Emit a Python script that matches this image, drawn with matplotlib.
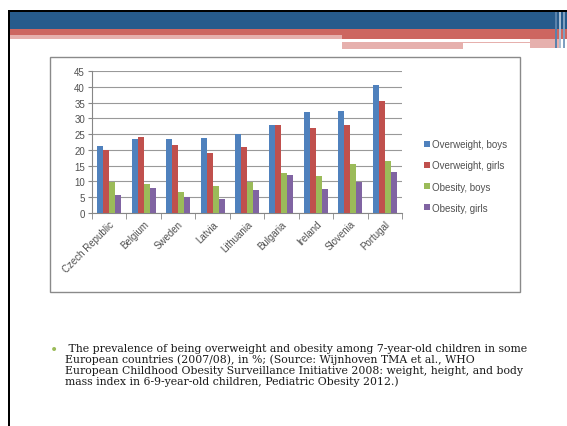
import matplotlib
matplotlib.use("Agg")
import matplotlib.pyplot as plt
from matplotlib.patches import Rectangle
import numpy as np

# chart data (in %)
countries = ["Czech Republic", "Belgium", "Sweden", "Latvia", "Lithuania",
             "Bulgaria", "Ireland", "Slovenia", "Portugal"]
overweight_boys = [21.3, 23.4, 23.4, 23.8, 25.0, 28.0, 31.9, 32.3, 40.5]
overweight_girls = [20.0, 24.1, 21.7, 18.9, 21.0, 27.8, 27.0, 28.0, 35.4]
obesity_boys = [9.9, 9.1, 6.7, 8.7, 9.7, 12.7, 11.7, 15.6, 16.4]
obesity_girls = [5.8, 7.9, 5.1, 4.4, 7.2, 12.0, 7.7, 9.9, 12.9]
series_names = ["Overweight, boys", "Overweight, girls", "Obesity, boys", "Obesity, girls"]
y_ticks = [0, 5, 10, 15, 20, 25, 30, 35, 40, 45]

caption = ("The prevalence of being overweight and obesity among 7-year-old children in some\n"
           "European countries (2007/08), in %; (Source: Wijnhoven TMA et al., WHO\n"
           "European Childhood Obesity Surveillance Initiative 2008: weight, height, and body\n"
           "mass index in 6-9-year-old children, Pediatric Obesity 2012.)")

W, H = 567, 427
fig = plt.figure(figsize=(W / 100, H / 100), dpi=100)


def px_rect(x0, y0, x1, y1, color, z=1):
    # rectangle given in picture pixels (top-left origin)
    fig.patches.append(Rectangle((x0 / W, 1 - y1 / H), (x1 - x0) / W, (y1 - y0) / H,
                                 transform=fig.transFigure, facecolor=color,
                                 edgecolor="none", zorder=z))


#%% slide decoration
px_rect(8, 11, 567, 13, "black", 3)
px_rect(8, 11, 10, 427, "black", 3)
px_rect(8, 13, 567, 30, "#275b8c")
px_rect(8, 30, 567, 36, "#cd6660")
px_rect(8, 36, 342, 40, "#e6b0ad")
px_rect(342, 36, 567, 40, "#cd6660")
px_rect(342, 43, 530, 44, "#e6b0ad")
px_rect(342, 44, 463, 50, "#e6b0ad")
px_rect(530, 40, 560, 49, "#e6b0ad")
for xs, c in [(555, "#5a82ab"), (559, "#a9bdd2"), (563, "#7f9fc0")]:
    px_rect(xs, 13, xs + 2, 49, c, 2)

# chart frame
fig.patches.append(Rectangle((50 / W, 1 - 293 / H), 470 / W, 235 / H,
                             transform=fig.transFigure, facecolor="white",
                             edgecolor="#8a8a8a", lw=1.0, zorder=0))

#%% bar chart
ax = fig.add_axes([92 / W, 1 - 214 / H, 310 / W, 142 / H])
ax.set_zorder(2)
x = np.arange(len(countries))
colors = ["#4f81bd", "#c0504d", "#9bbb59", "#8064a2"]
bw = 0.175
for i, vals in enumerate([overweight_boys, overweight_girls, obesity_boys, obesity_girls]):
    ax.bar(x + (i - 1.5) * bw, vals, bw, color=colors[i], label=series_names[i], zorder=3)

ax.set_xlim(-0.5, len(countries) - 0.5)
ax.set_ylim(0, 45)
ax.set_yticks(y_ticks)
ax.set_yticklabels([str(t) for t in y_ticks], fontsize=7, color="#505050",
                   family="Liberation Sans")
ax.set_xticks(x)
ax.set_xticklabels(countries, rotation=45, ha="right", rotation_mode="anchor",
                   fontsize=7, color="#505050", family="Liberation Sans")
ax.tick_params(axis="x", length=0, pad=4)
ax.set_xticks(np.arange(-0.5, len(countries), 1), minor=True)
ax.tick_params(axis="x", which="minor", length=4, color="#868686")
ax.tick_params(axis="y", length=3, color="#868686", pad=2)
ax.grid(axis="y", color="#999999", lw=0.8, zorder=0)
for s in ["top", "right"]:
    ax.spines[s].set_visible(False)
for s in ["left", "bottom"]:
    ax.spines[s].set_color("#868686")
    ax.spines[s].set_linewidth(0.8)

handles, labels = ax.get_legend_handles_labels()
fig.legend(handles, labels, loc="center left", bbox_to_anchor=(415 / W, 1 - 177 / H),
           frameon=False, prop={"family": "Liberation Sans", "size": 7},
           handlelength=0.6, handleheight=0.6, handletextpad=0.2, labelspacing=1.15,
           labelcolor="#505050")

#%% caption
fig.text(50 / W, 1 - 350 / H, "\u2022", color="#9bbb59", fontsize=10, va="center")
fig.text(65 / W, 1 - 344 / H, " " + caption, fontsize=7.8, va="top", ha="left",
         family="DejaVu Serif", color="#1a1a1a", linespacing=1.08)

fig.savefig("out.png", dpi=100)
